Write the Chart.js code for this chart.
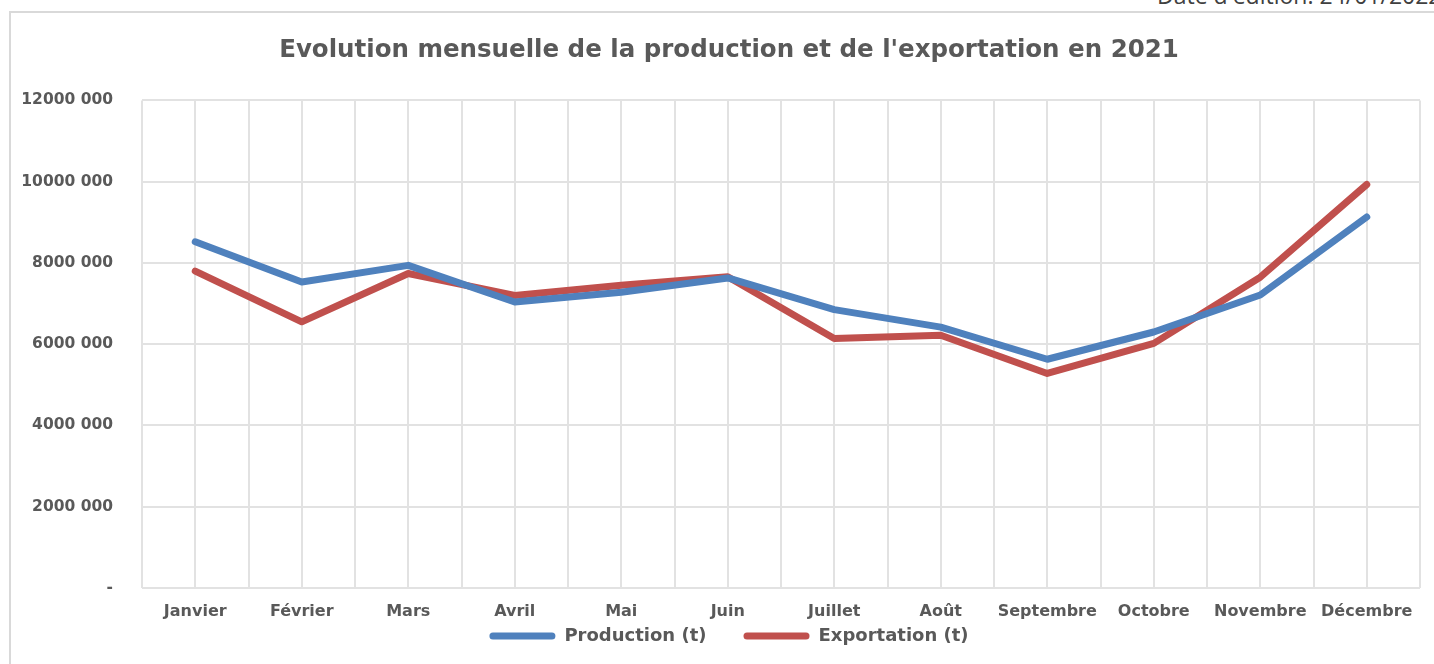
<!DOCTYPE html>
<html>
<head>
<meta charset="utf-8">
<script src="https://cdn.jsdelivr.net/npm/chart.js@4/dist/chart.umd.min.js"></script>
<style>
  html, body { margin: 0; padding: 0; width: 1434px; height: 664px; overflow: hidden; background: #fff; }
  #frame { position: absolute; left: 9px; top: 11px; width: 1500px; height: 800px; border: 2px solid #d9d9d9; box-sizing: border-box; }
  #date { position: absolute; left: 1157px; top: -16px; font-family: "Open Sans", sans-serif; font-size: 23px; line-height: 23px; color: #404040; white-space: nowrap; }
  #c { position: absolute; left: 0; top: 0; }
</style>
</head>
<body>
<div id="date">Date d'édition: 24/01/2022</div>
<div id="frame"></div>
<canvas id="c" width="1434" height="664"></canvas>
<script>
const chartTitle = "Evolution mensuelle de la production et de l'exportation en 2021";
const months = ["Janvier", "Février", "Mars", "Avril", "Mai", "Juin", "Juillet", "Août", "Septembre", "Octobre", "Novembre", "Décembre"];
const production = [8520000, 7530000, 7940000, 7040000, 7280000, 7630000, 6850000, 6420000, 5630000, 6300000, 7210000, 9130000];
const exportation = [7800000, 6550000, 7740000, 7200000, 7450000, 7660000, 6140000, 6220000, 5280000, 6020000, 7650000, 9930000];
const yTickLabels = ["-", "2000 000", "4000 000", "6000 000", "8000 000", "10000 000", "12000 000"];
const seriesNames = ["Production (t)", "Exportation (t)"];

const textColor = "#595959";
const gridColor = "#e2e2e2";
const FONT = "'DejaVu Sans', sans-serif";

// Title and legend are centred on the (wider) original frame, 12px right of the canvas centre;
// the legend sits right under the category labels.
const placeBlocks = {
  id: "placeBlocks",
  beforeDraw(chart) {
    const shift = 12;
    if (chart.titleBlock) {
      chart.titleBlock.left += shift;
      chart.titleBlock.right += shift;
    }
    if (chart.legend) {
      const lg = chart.legend;
      lg.left += shift;
      lg.right += shift;
      lg.top = chart.chartArea.bottom + 2;
      lg.bottom = chart.height;
      lg.height = lg.bottom - lg.top;
    }
  }
};

new Chart(document.getElementById("c"), {
  type: "line",
  data: {
    labels: months,
    datasets: [
      { label: seriesNames[0], data: production, borderColor: "#4f81bd", backgroundColor: "#4f81bd", borderWidth: 7, pointRadius: 0, tension: 0, borderCapStyle: "round", borderJoinStyle: "round", xAxisID: "x" },
      { label: seriesNames[1], data: exportation, borderColor: "#c0504d", backgroundColor: "#c0504d", borderWidth: 7, pointRadius: 0, tension: 0, borderCapStyle: "round", borderJoinStyle: "round", xAxisID: "x" }
    ]
  },
  plugins: [placeBlocks],
  options: {
    responsive: false,
    devicePixelRatio: 1,
    animation: false,
    layout: { padding: { left: 14, right: 14, top: 0, bottom: 0 } },
    plugins: {
      tooltip: { enabled: false },
      title: {
        display: true,
        text: chartTitle,
        color: textColor,
        font: { family: FONT, size: 24.5, weight: "bold" },
        padding: { top: 36, bottom: 35 }
      },
      legend: {
        display: true,
        position: "bottom",
        maxHeight: 40,
        labels: {
          color: textColor,
          font: { family: FONT, size: 18, weight: "bold" },
          boxWidth: 66,
          boxHeight: 7,
          padding: 37,
          useBorderRadius: true,
          borderRadius: 3.5,
          generateLabels(chart) {
            const items = Chart.defaults.plugins.legend.labels.generateLabels(chart);
            items.forEach(it => { it.lineWidth = 0; it.strokeStyle = "transparent"; });
            return items;
          }
        }
      }
    },
    scales: {
      x: {
        type: "category",
        position: "bottom",
        offset: true,
        grid: { display: true, offset: true, color: gridColor, lineWidth: 2, drawTicks: false },
        border: { display: false },
        ticks: { color: textColor, font: { family: FONT, size: 16, weight: "bold" }, padding: 14, autoSkip: false, maxRotation: 0, minRotation: 0 },
        afterFit(scale) { scale.height = 36; }
      },
      x2: {
        type: "category",
        position: "bottom",
        labels: months,
        offset: true,
        grid: { display: true, offset: false, color: gridColor, lineWidth: 2, drawTicks: false },
        border: { display: false },
        ticks: { display: false },
        afterFit(scale) { scale.height = 0; }
      },
      y: {
        type: "linear",
        min: 0,
        max: 12000000,
        grid: { color: gridColor, lineWidth: 2, drawTicks: false },
        border: { display: false },
        ticks: {
          stepSize: 2000000,
          color: textColor,
          font: { family: FONT, size: 15.5, weight: "bold" },
          padding: 29,
          callback: (v, i) => yTickLabels[i]
        },
        afterFit(scale) { scale.width = 128; }
      }
    }
  }
});
</script>
</body>
</html>
